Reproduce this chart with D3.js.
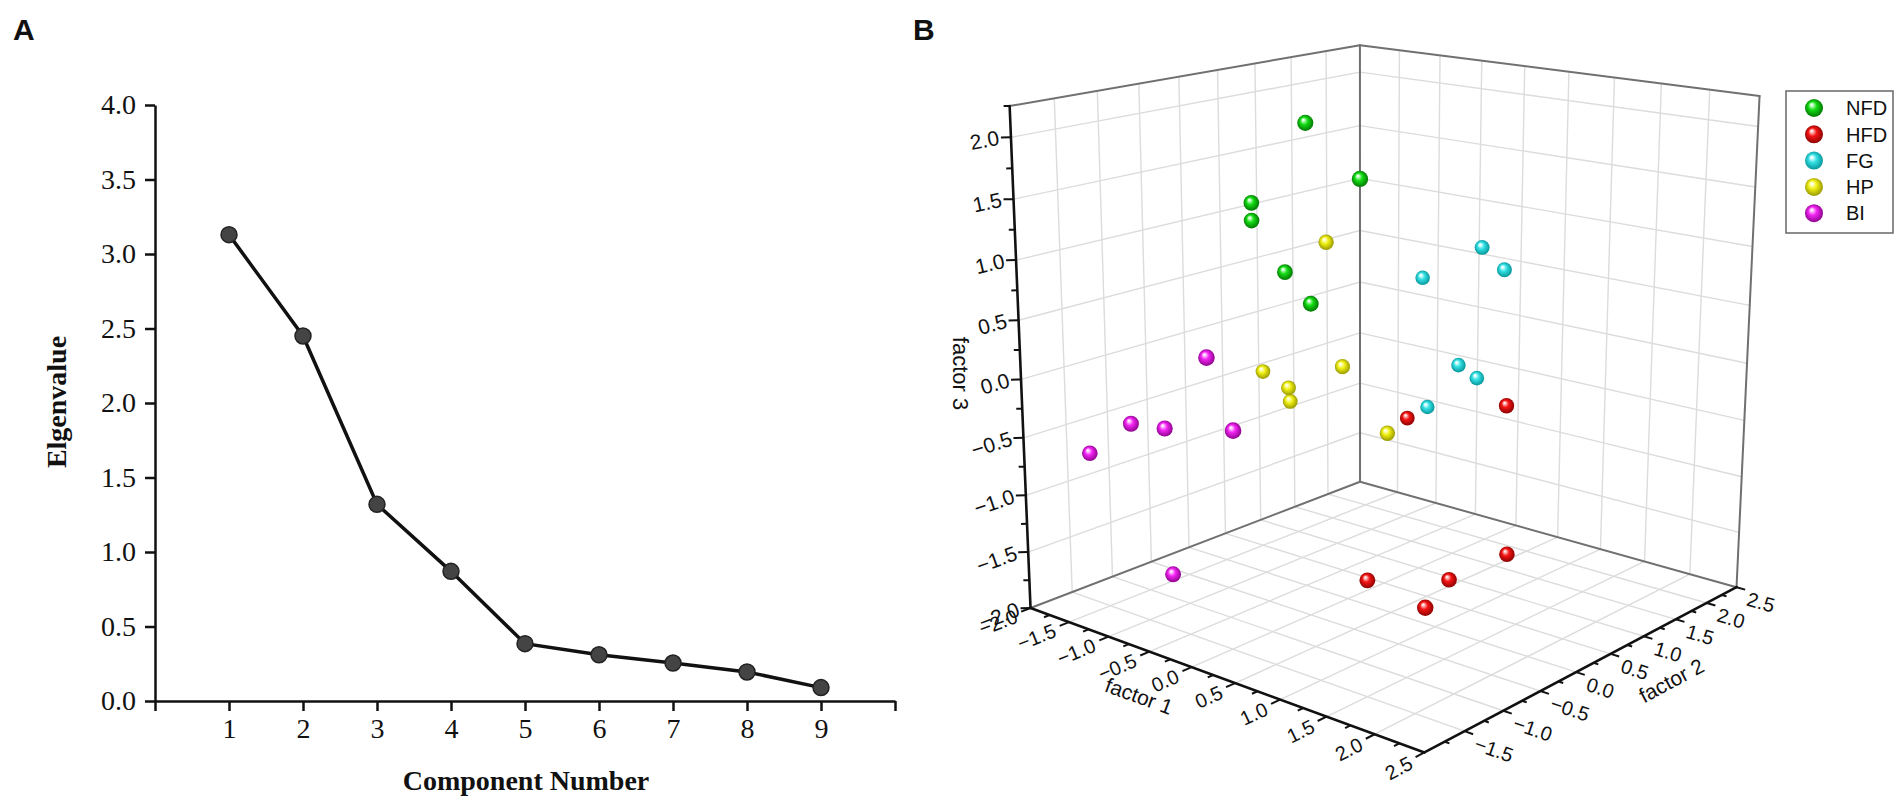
<!DOCTYPE html>
<html>
  <head>
    <meta charset="utf-8">
    <title>Scree plot and factor scores</title>
    <script src="https://cdn.jsdelivr.net/npm/d3@7"></script>
    <style>
      body { margin: 0; background: #fff; }
      .scree text { font-family: "Liberation Serif", "Times New Roman", serif; font-size: 28px; fill: #111; }
      .scree .domain, .scree .tick line { stroke: #111; stroke-width: 2.5; }
      .cube text { font-family: "Liberation Sans", Arial, sans-serif; fill: #111; }
      .panel-tag { font-family: "Liberation Sans", Arial, sans-serif; font-weight: bold; font-size: 30px; fill: #111; }
    </style>
  </head>
  <body>
    <svg id="chart" width="1904" height="804"></svg>
    <script>
      // ---- panel A: scree plot ----
      var components = [1, 2, 3, 4, 5, 6, 7, 8, 9];
      var eigenvalues = [3.13, 2.45, 1.32, 0.87, 0.385, 0.31, 0.255, 0.195, 0.09];
      var eigenTicks = [0, 0.5, 1, 1.5, 2, 2.5, 3, 3.5, 4];

      // ---- panel B: factor scores [factor 1, factor 2, factor 3] ----
      var groups = ["NFD", "HFD", "FG", "HP", "BI"];
      var nfd = [[-0.30, -0.20, 2.07], [0.31, -0.20, 1.69], [-0.94, -0.20, 1.33],
                 [-0.94, -0.20, 1.18], [-0.55, -0.20, 0.80], [-0.25, -0.20, 0.58]];
      var hfd = [[-0.27, 1.15, -0.71], [0.87, 1.15, -0.38], [1.24, 0.70, -1.50],
                 [0.95, 0.25, -1.67], [0.59, -0.43, -1.57], [1.41, -0.65, -1.54]];
      var fg  = [[0.05, 1.83, 0.75], [-0.65, 1.83, 0.37], [0.31, 1.83, 0.59],
                 [-0.21, 1.83, -0.36], [0.01, 1.83, -0.44], [-0.58, 1.83, -0.82]];
      var hp  = [[-0.67, 0.48, 0.92], [-1.46, 0.48, -0.36], [-1.14, 0.48, -0.45],
                 [-1.12, 0.48, -0.57], [-0.48, 0.48, -0.14], [0.05, 0.48, -0.63]];
      var bi  = [[-0.20, -1.55, 0.41], [-1.12, -1.55, -0.31], [-0.71, -1.55, -0.27],
                 [0.09, -1.55, -0.13], [-1.65, -1.55, -0.67], [-0.65, -1.55, -1.50]];
      var scores = [nfd, hfd, fg, hp, bi];

      var f1Ticks = [-2, -1.5, -1, -0.5, 0, 0.5, 1, 1.5, 2, 2.5];
      var f2Ticks = [-1.5, -1, -0.5, 0, 0.5, 1, 1.5, 2, 2.5];
      var f3Ticks = [-2, -1.5, -1, -0.5, 0, 0.5, 1, 1.5, 2];

      // ball colours: [highlight, body, shadow]
      var ballColors = {
        NFD: ["#d0ffd0", "#14dc14", "#006a00"],
        HFD: ["#ffd0d0", "#f51414", "#800000"],
        FG:  ["#e6ffff", "#34e0e4", "#008c90"],
        HP:  ["#ffffd6", "#f0f014", "#8e8e00"],
        BI:  ["#ffd6ff", "#f424f4", "#800080"]
      };

      var svg = d3.select("#chart");
      var fmt = d3.format(".1f");

      // =================== A ===================
      var xA = d3.scaleLinear().domain([0, 10]).range([155, 895]);
      var yA = d3.scaleLinear().domain([0, 4]).range([701, 105]);
      var gA = svg.append("g").attr("class", "scree");

      gA.append("g")
        .attr("transform", "translate(0,701)")
        .call(d3.axisBottom(xA)
          .tickValues(d3.range(0, 11))
          .tickFormat(function (d) { return components.indexOf(d) >= 0 ? d : ""; })
          .tickSize(10).tickSizeOuter(0).tickPadding(7));

      gA.append("g")
        .attr("transform", "translate(155,0)")
        .call(d3.axisLeft(yA)
          .tickValues(eigenTicks)
          .tickFormat(fmt)
          .tickSize(10).tickSizeOuter(0).tickPadding(9));

      gA.append("path")
        .datum(eigenvalues)
        .attr("fill", "none")
        .attr("stroke", "#111")
        .attr("stroke-width", 3.5)
        .attr("d", d3.line()
          .x(function (d, i) { return xA(components[i]); })
          .y(function (d) { return yA(d); }));

      gA.selectAll("circle.pt")
        .data(eigenvalues)
        .enter()
        .append("circle")
          .attr("class", "pt")
          .attr("cx", function (d, i) { return xA(components[i]); })
          .attr("cy", function (d) { return yA(d); })
          .attr("r", 8)
          .attr("fill", "#444")
          .attr("stroke", "#222")
          .attr("stroke-width", 1.5);

      gA.append("text")
        .attr("x", 526).attr("y", 790)
        .attr("text-anchor", "middle")
        .attr("font-weight", "bold")
        .text("Component Number");

      gA.append("text")
        .attr("transform", "translate(66,402) rotate(-90)")
        .attr("text-anchor", "middle")
        .attr("font-weight", "bold")
        .text("Elgenvalue");

      svg.append("text").attr("class", "panel-tag").attr("x", 13).attr("y", 40).text("A");
      svg.append("text").attr("class", "panel-tag").attr("x", 913).attr("y", 40).text("B");

      // =================== B ===================
      // perspective camera looking at the unit cube
      var cam = { cx: 1362, cy: 351, focal: 2343, azimuth: 40.5, elevation: 15.9,
                  dist: 4.362, lift: 1.254, shift: 0.051 };
      var s1 = d3.scaleLinear().domain([-2, 2.5]).range([-0.5, 0.5]);
      var s2 = d3.scaleLinear().domain([-2, 2.5]).range([-0.5, 0.5]);
      var s3 = d3.scaleLinear().domain([-2, 2.25]).range([-0.5, 0.5]);
      var th = cam.azimuth * Math.PI / 180, ph = cam.elevation * Math.PI / 180;

      function project(a, b, c) {
        var u = s1(a), v = s2(b), w = s3(c);
        var lat = u * Math.cos(th) + v * Math.sin(th) + cam.shift;
        var fwd = -u * Math.sin(th) + v * Math.cos(th) + cam.dist;
        var z = w - cam.lift;
        var depth = fwd * Math.cos(ph) - z * Math.sin(ph);
        var up = fwd * Math.sin(ph) + z * Math.cos(ph);
        return [cam.cx + cam.focal * lat / depth, cam.cy - cam.focal * up / depth, depth];
      }
      function unit(p, q) {
        var dx = q[0] - p[0], dy = q[1] - p[1], n = Math.sqrt(dx * dx + dy * dy);
        return [dx / n, dy / n];
      }
      function angle(p, q) { return Math.atan2(q[1] - p[1], q[0] - p[0]) * 180 / Math.PI; }
      function tr(p, rot) { return "translate(" + p[0] + "," + p[1] + ") rotate(" + rot + ")"; }

      var gB = svg.append("g").attr("class", "cube");
      var lo1 = -2, hi1 = 2.5, lo2 = -2, hi2 = 2.5, lo3 = -2, hi3 = 2.25;

      function seg(g, p, q, color, width) {
        var a = project(p[0], p[1], p[2]), b = project(q[0], q[1], q[2]);
        g.append("line")
          .attr("x1", a[0]).attr("y1", a[1]).attr("x2", b[0]).attr("y2", b[1])
          .attr("stroke", color).attr("stroke-width", width).attr("stroke-linecap", "round");
      }

      // grids on the two back walls and the floor
      var grid = gB.append("g");
      var gc = "#dcdcdc", gw = 1.4;
      f2Ticks.filter(function (t) { return t < hi2; }).forEach(function (t) {
        seg(grid, [lo1, t, lo3], [lo1, t, hi3], gc, gw);     // left wall verticals
        seg(grid, [lo1, t, lo3], [hi1, t, lo3], gc, gw);     // floor
      });
      f1Ticks.filter(function (t) { return t > lo1 && t < hi1; }).forEach(function (t) {
        seg(grid, [t, hi2, lo3], [t, hi2, hi3], gc, gw);     // right wall verticals
        seg(grid, [t, lo2, lo3], [t, hi2, lo3], gc, gw);     // floor
      });
      f3Ticks.filter(function (t) { return t > lo3; }).forEach(function (t) {
        seg(grid, [lo1, lo2, t], [lo1, hi2, t], gc, gw);     // left wall horizontals
        seg(grid, [lo1, hi2, t], [hi1, hi2, t], gc, gw);     // right wall horizontals
      });

      // box frame
      var ec = "#707070", ew = 2;
      seg(gB, [lo1, lo2, lo3], [lo1, hi2, lo3], ec, ew);
      seg(gB, [lo1, hi2, lo3], [hi1, hi2, lo3], ec, ew);
      seg(gB, [lo1, hi2, lo3], [lo1, hi2, hi3], ec, ew);
      seg(gB, [hi1, hi2, lo3], [hi1, hi2, hi3], ec, ew);
      seg(gB, [lo1, lo2, hi3], [lo1, hi2, hi3], ec, ew);
      seg(gB, [lo1, hi2, hi3], [hi1, hi2, hi3], ec, ew);

      // axes
      var ac = "#111", aw = 2.6;
      seg(gB, [lo1, lo2, lo3], [lo1, lo2, hi3], ac, aw);
      seg(gB, [lo1, lo2, lo3], [hi1, lo2, lo3], ac, aw);
      seg(gB, [hi1, lo2, lo3], [hi1, hi2, lo3], ac, aw);

      function tickAt(base, dir, len) {
        gB.append("line")
          .attr("x1", base[0]).attr("y1", base[1])
          .attr("x2", base[0] + dir[0] * len).attr("y2", base[1] + dir[1] * len)
          .attr("stroke", ac).attr("stroke-width", 2);
      }
      function minors(lo, hi) {
        return d3.range(lo + 0.25, hi + 0.001, 0.5);
      }

      // factor 3 (vertical)
      f3Ticks.forEach(function (t) {
        var base = project(lo1, lo2, t);
        var dir = unit(base, project(lo1 - 0.2, lo2 - 0.2, t));
        tickAt(base, dir, 10);
        gB.append("text")
          .attr("transform", tr([base[0] + dir[0] * 12, base[1] + dir[1] * 12],
                                angle(base, project(lo1, lo2 + 0.5, t))))
          .attr("text-anchor", "end").attr("dy", "0.35em")
          .attr("font-size", 21)
          .text(fmt(t));
      });
      minors(lo3, hi3).forEach(function (t) {
        var base = project(lo1, lo2, t);
        tickAt(base, unit(base, project(lo1 - 0.2, lo2 - 0.2, t)), 6);
      });

      // factor 1 (front left edge)
      f1Ticks.forEach(function (t) {
        var base = project(t, lo2, lo3);
        var dir = unit(base, project(t, lo2 - 0.2, lo3));
        tickAt(base, dir, 10);
        gB.append("text")
          .attr("transform", tr([base[0] + dir[0] * 15, base[1] + dir[1] * 15 + 2],
                                angle(base, project(t, lo2 + 0.5, lo3))))
          .attr("text-anchor", "end").attr("dy", "0.35em")
          .attr("font-size", 20)
          .text(fmt(t));
      });
      minors(lo1, hi1).forEach(function (t) {
        if (t > hi1) return;
        var base = project(t, lo2, lo3);
        tickAt(base, unit(base, project(t, lo2 - 0.2, lo3)), 6);
      });

      // factor 2 (front right edge)
      f2Ticks.forEach(function (t) {
        var base = project(hi1, t, lo3);
        var dir = unit(base, project(hi1 + 0.2, t, lo3));
        var along = unit(base, project(hi1, t + 0.5, lo3));
        var nrm = [-along[1], along[0]];
        tickAt(base, dir, 9);
        gB.append("text")
          .attr("transform", tr([base[0] + dir[0] * 6 + nrm[0] * 11, base[1] + dir[1] * 6 + nrm[1] * 11],
                                angle(base, project(hi1 + 0.5, t, lo3))))
          .attr("text-anchor", "start").attr("dy", "0.35em")
          .attr("font-size", 20)
          .text(fmt(t));
      });
      minors(lo2, hi2).forEach(function (t) {
        if (t > hi2) return;
        var base = project(hi1, t, lo3);
        tickAt(base, unit(base, project(hi1 + 0.2, t, lo3)), 5);
      });

      // axis titles
      (function () {
        var b1 = project(-0.1, lo2, lo3), d1 = unit(b1, project(-0.1, lo2 - 0.2, lo3));
        gB.append("text")
          .attr("transform", tr([b1[0] + d1[0] * 48, b1[1] + d1[1] * 48 + 13],
                                angle(b1, project(0.4, lo2, lo3))))
          .attr("text-anchor", "middle").attr("dy", "0.35em").attr("font-size", 21)
          .text("factor 1");
        var b2 = project(hi1, 1.05, lo3), a2 = unit(b2, project(hi1, 1.55, lo3));
        gB.append("text")
          .attr("transform", tr([b2[0] - a2[1] * 52, b2[1] + a2[0] * 52],
                                angle(b2, project(hi1, 1.55, lo3))))
          .attr("text-anchor", "middle").attr("dy", "0.35em").attr("font-size", 21)
          .text("factor 2");
        var b3 = project(lo1, lo2, 0.05);
        gB.append("text")
          .attr("transform", tr([b3[0] - 60, b3[1]], 90))
          .attr("text-anchor", "middle").attr("dy", "0.35em").attr("font-size", 22)
          .text("factor 3");
      })();

      // shaded balls
      var defs = svg.append("defs");
      groups.forEach(function (g) {
        var c = ballColors[g];
        var rg = defs.append("radialGradient").attr("id", "ball-" + g)
          .attr("cx", "50%").attr("cy", "50%").attr("r", "55%")
          .attr("fx", "36%").attr("fy", "30%");
        rg.append("stop").attr("offset", "0%").attr("stop-color", "#ffffff");
        rg.append("stop").attr("offset", "12%").attr("stop-color", c[0]);
        rg.append("stop").attr("offset", "42%").attr("stop-color", c[1]);
        rg.append("stop").attr("offset", "100%").attr("stop-color", c[2]);
      });

      var balls = [];
      scores.forEach(function (list, gi) {
        list.forEach(function (p) {
          var s = project(p[0], p[1], p[2]);
          balls.push({ group: groups[gi], x: s[0], y: s[1], depth: s[2] });
        });
      });
      balls.sort(function (a, b) { return b.depth - a.depth; });

      var ballRadius = 0.0152;
      gB.append("g").selectAll("circle")
        .data(balls)
        .enter()
        .append("circle")
          .attr("cx", function (d) { return d.x; })
          .attr("cy", function (d) { return d.y; })
          .attr("r", function (d) { return cam.focal * ballRadius / d.depth; })
          .attr("fill", function (d) { return "url(#ball-" + d.group + ")"; });

      // legend
      var legend = gB.append("g").attr("transform", "translate(1786,91)");
      legend.append("rect")
        .attr("width", 107).attr("height", 142)
        .attr("fill", "#fff").attr("stroke", "#707070").attr("stroke-width", 1.6);
      var item = legend.selectAll("g.item")
        .data(groups)
        .enter()
        .append("g")
          .attr("class", "item")
          .attr("transform", function (d, i) { return "translate(0," + (17 + i * 26.3) + ")"; });
      item.append("circle")
        .attr("cx", 28).attr("r", 9)
        .attr("fill", function (d) { return "url(#ball-" + d + ")"; });
      item.append("text")
        .attr("x", 60).attr("dy", "0.36em")
        .attr("font-size", 20)
        .text(function (d) { return d; });
    </script>
  </body>
</html>
